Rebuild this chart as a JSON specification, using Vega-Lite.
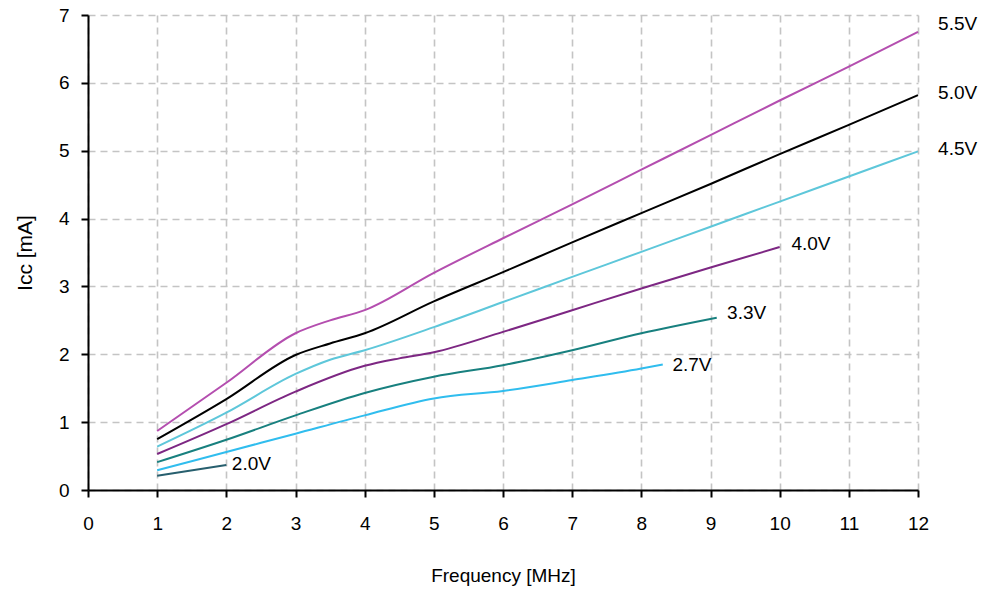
{
  "$schema": "https://vega.github.io/schema/vega-lite/v6.json",
  "width": 830,
  "height": 475,
  "autosize": "none",
  "padding": {"left": 88, "top": 15, "right": 68, "bottom": 102},
  "background": "white",
  "config": {
    "view": {"stroke": null},
    "font": "Liberation Sans"
  },
  "datasets": {
    "curves": [
      {"s": "5.5V", "f": 1, "i": 0.87}, {"s": "5.5V", "f": 2, "i": 1.58}, {"s": "5.5V", "f": 3, "i": 2.31}, {"s": "5.5V", "f": 3.5, "i": 2.5}, {"s": "5.5V", "f": 4, "i": 2.65}, {"s": "5.5V", "f": 5, "i": 3.2}, {"s": "5.5V", "f": 6, "i": 3.71}, {"s": "5.5V", "f": 7, "i": 4.21}, {"s": "5.5V", "f": 8, "i": 4.72}, {"s": "5.5V", "f": 9, "i": 5.23}, {"s": "5.5V", "f": 10, "i": 5.74}, {"s": "5.5V", "f": 11, "i": 6.24}, {"s": "5.5V", "f": 12, "i": 6.75},
      {"s": "5.0V", "f": 1, "i": 0.75}, {"s": "5.0V", "f": 2, "i": 1.34}, {"s": "5.0V", "f": 3, "i": 1.99}, {"s": "5.0V", "f": 3.5, "i": 2.16}, {"s": "5.0V", "f": 4, "i": 2.31}, {"s": "5.0V", "f": 5, "i": 2.78}, {"s": "5.0V", "f": 6, "i": 3.21}, {"s": "5.0V", "f": 7, "i": 3.65}, {"s": "5.0V", "f": 8, "i": 4.08}, {"s": "5.0V", "f": 9, "i": 4.51}, {"s": "5.0V", "f": 10, "i": 4.95}, {"s": "5.0V", "f": 11, "i": 5.38}, {"s": "5.0V", "f": 12, "i": 5.82},
      {"s": "4.5V", "f": 1, "i": 0.64}, {"s": "4.5V", "f": 2, "i": 1.14}, {"s": "4.5V", "f": 3, "i": 1.71}, {"s": "4.5V", "f": 3.5, "i": 1.92}, {"s": "4.5V", "f": 4, "i": 2.06}, {"s": "4.5V", "f": 5, "i": 2.4}, {"s": "4.5V", "f": 6, "i": 2.77}, {"s": "4.5V", "f": 7, "i": 3.14}, {"s": "4.5V", "f": 8, "i": 3.51}, {"s": "4.5V", "f": 9, "i": 3.88}, {"s": "4.5V", "f": 10, "i": 4.25}, {"s": "4.5V", "f": 11, "i": 4.62}, {"s": "4.5V", "f": 12, "i": 4.99},
      {"s": "4.0V", "f": 1, "i": 0.53}, {"s": "4.0V", "f": 2, "i": 0.97}, {"s": "4.0V", "f": 3, "i": 1.45}, {"s": "4.0V", "f": 4, "i": 1.83}, {"s": "4.0V", "f": 4.5, "i": 1.94}, {"s": "4.0V", "f": 5, "i": 2.03}, {"s": "4.0V", "f": 6, "i": 2.33}, {"s": "4.0V", "f": 7, "i": 2.65}, {"s": "4.0V", "f": 8, "i": 2.97}, {"s": "4.0V", "f": 9, "i": 3.28}, {"s": "4.0V", "f": 10, "i": 3.58},
      {"s": "3.3V", "f": 1, "i": 0.41}, {"s": "3.3V", "f": 2, "i": 0.74}, {"s": "3.3V", "f": 3, "i": 1.1}, {"s": "3.3V", "f": 4, "i": 1.43}, {"s": "3.3V", "f": 5, "i": 1.67}, {"s": "3.3V", "f": 6, "i": 1.84}, {"s": "3.3V", "f": 7, "i": 2.06}, {"s": "3.3V", "f": 8, "i": 2.31}, {"s": "3.3V", "f": 9.09, "i": 2.54},
      {"s": "2.7V", "f": 1, "i": 0.29}, {"s": "2.7V", "f": 2, "i": 0.56}, {"s": "2.7V", "f": 3, "i": 0.83}, {"s": "2.7V", "f": 4, "i": 1.1}, {"s": "2.7V", "f": 5, "i": 1.35}, {"s": "2.7V", "f": 6, "i": 1.46}, {"s": "2.7V", "f": 7, "i": 1.62}, {"s": "2.7V", "f": 8, "i": 1.79}, {"s": "2.7V", "f": 8.31, "i": 1.85},
      {"s": "2.0V", "f": 1, "i": 0.21}, {"s": "2.0V", "f": 2, "i": 0.37}
    ],
    "labels": [
      {"s": "5.5V", "f": 12.29, "i": 6.87},
      {"s": "5.0V", "f": 12.29, "i": 5.85},
      {"s": "4.5V", "f": 12.29, "i": 5.03},
      {"s": "4.0V", "f": 10.17, "i": 3.63},
      {"s": "3.3V", "f": 9.24, "i": 2.61},
      {"s": "2.7V", "f": 8.45, "i": 1.84},
      {"s": "2.0V", "f": 2.08, "i": 0.38}
    ]
  },
  "layer": [
    {
      "data": {"name": "curves"},
      "mark": {"type": "line", "interpolate": "monotone", "strokeWidth": 2},
      "encoding": {
        "x": {
          "field": "f", "type": "quantitative",
          "scale": {"domain": [0, 12], "nice": false, "zero": false},
          "axis": {
            "title": "Frequency [MHz]", "values": [0,1,2,3,4,5,6,7,8,9,10,11,12], "format": "d",
            "labelFlush": false, "labelOverlap": false,
            "grid": true, "gridColor": "#c4c4c4", "gridDash": [7, 5], "gridWidth": 1.6,
            "domainColor": "#000000", "domainWidth": 2,
            "tickColor": "#000000", "tickSize": 7, "tickWidth": 2,
            "labelFont": "Liberation Sans", "labelFontSize": 19, "labelColor": "#000000", "labelPadding": 17,
            "titleFont": "Liberation Sans", "titleFontSize": 19, "titleFontWeight": "normal", "titleColor": "#000000", "titlePadding": 33
          }
        },
        "y": {
          "field": "i", "type": "quantitative",
          "scale": {"domain": [0, 7], "nice": false},
          "axis": {
            "title": "Icc [mA]", "values": [0,1,2,3,4,5,6,7], "format": "d",
            "labelFlush": false, "labelOverlap": false,
            "grid": true, "gridColor": "#c4c4c4", "gridDash": [7, 5], "gridWidth": 1.6,
            "domainColor": "#000000", "domainWidth": 2,
            "tickColor": "#000000", "tickSize": 7, "tickWidth": 2,
            "labelFont": "Liberation Sans", "labelFontSize": 19, "labelColor": "#000000", "labelPadding": 12,
            "titleFont": "Liberation Sans", "titleFontSize": 21, "titleFontWeight": "normal", "titleColor": "#000000", "titlePadding": 23
          }
        },
        "color": {
          "field": "s", "type": "nominal", "legend": null,
          "scale": {
            "domain": ["5.5V", "5.0V", "4.5V", "4.0V", "3.3V", "2.7V", "2.0V"],
            "range": ["#b44eaf", "#000000", "#5ec7da", "#7d2783", "#18807f", "#30bdee", "#275f6e"]
          }
        },
        "detail": {"field": "s"}
      }
    },
    {
      "data": {"name": "labels"},
      "mark": {"type": "text", "align": "left", "baseline": "middle", "font": "Liberation Sans", "fontSize": 19, "color": "#000000"},
      "encoding": {
        "x": {"field": "f", "type": "quantitative"},
        "y": {"field": "i", "type": "quantitative"},
        "text": {"field": "s"}
      }
    }
  ]
}
